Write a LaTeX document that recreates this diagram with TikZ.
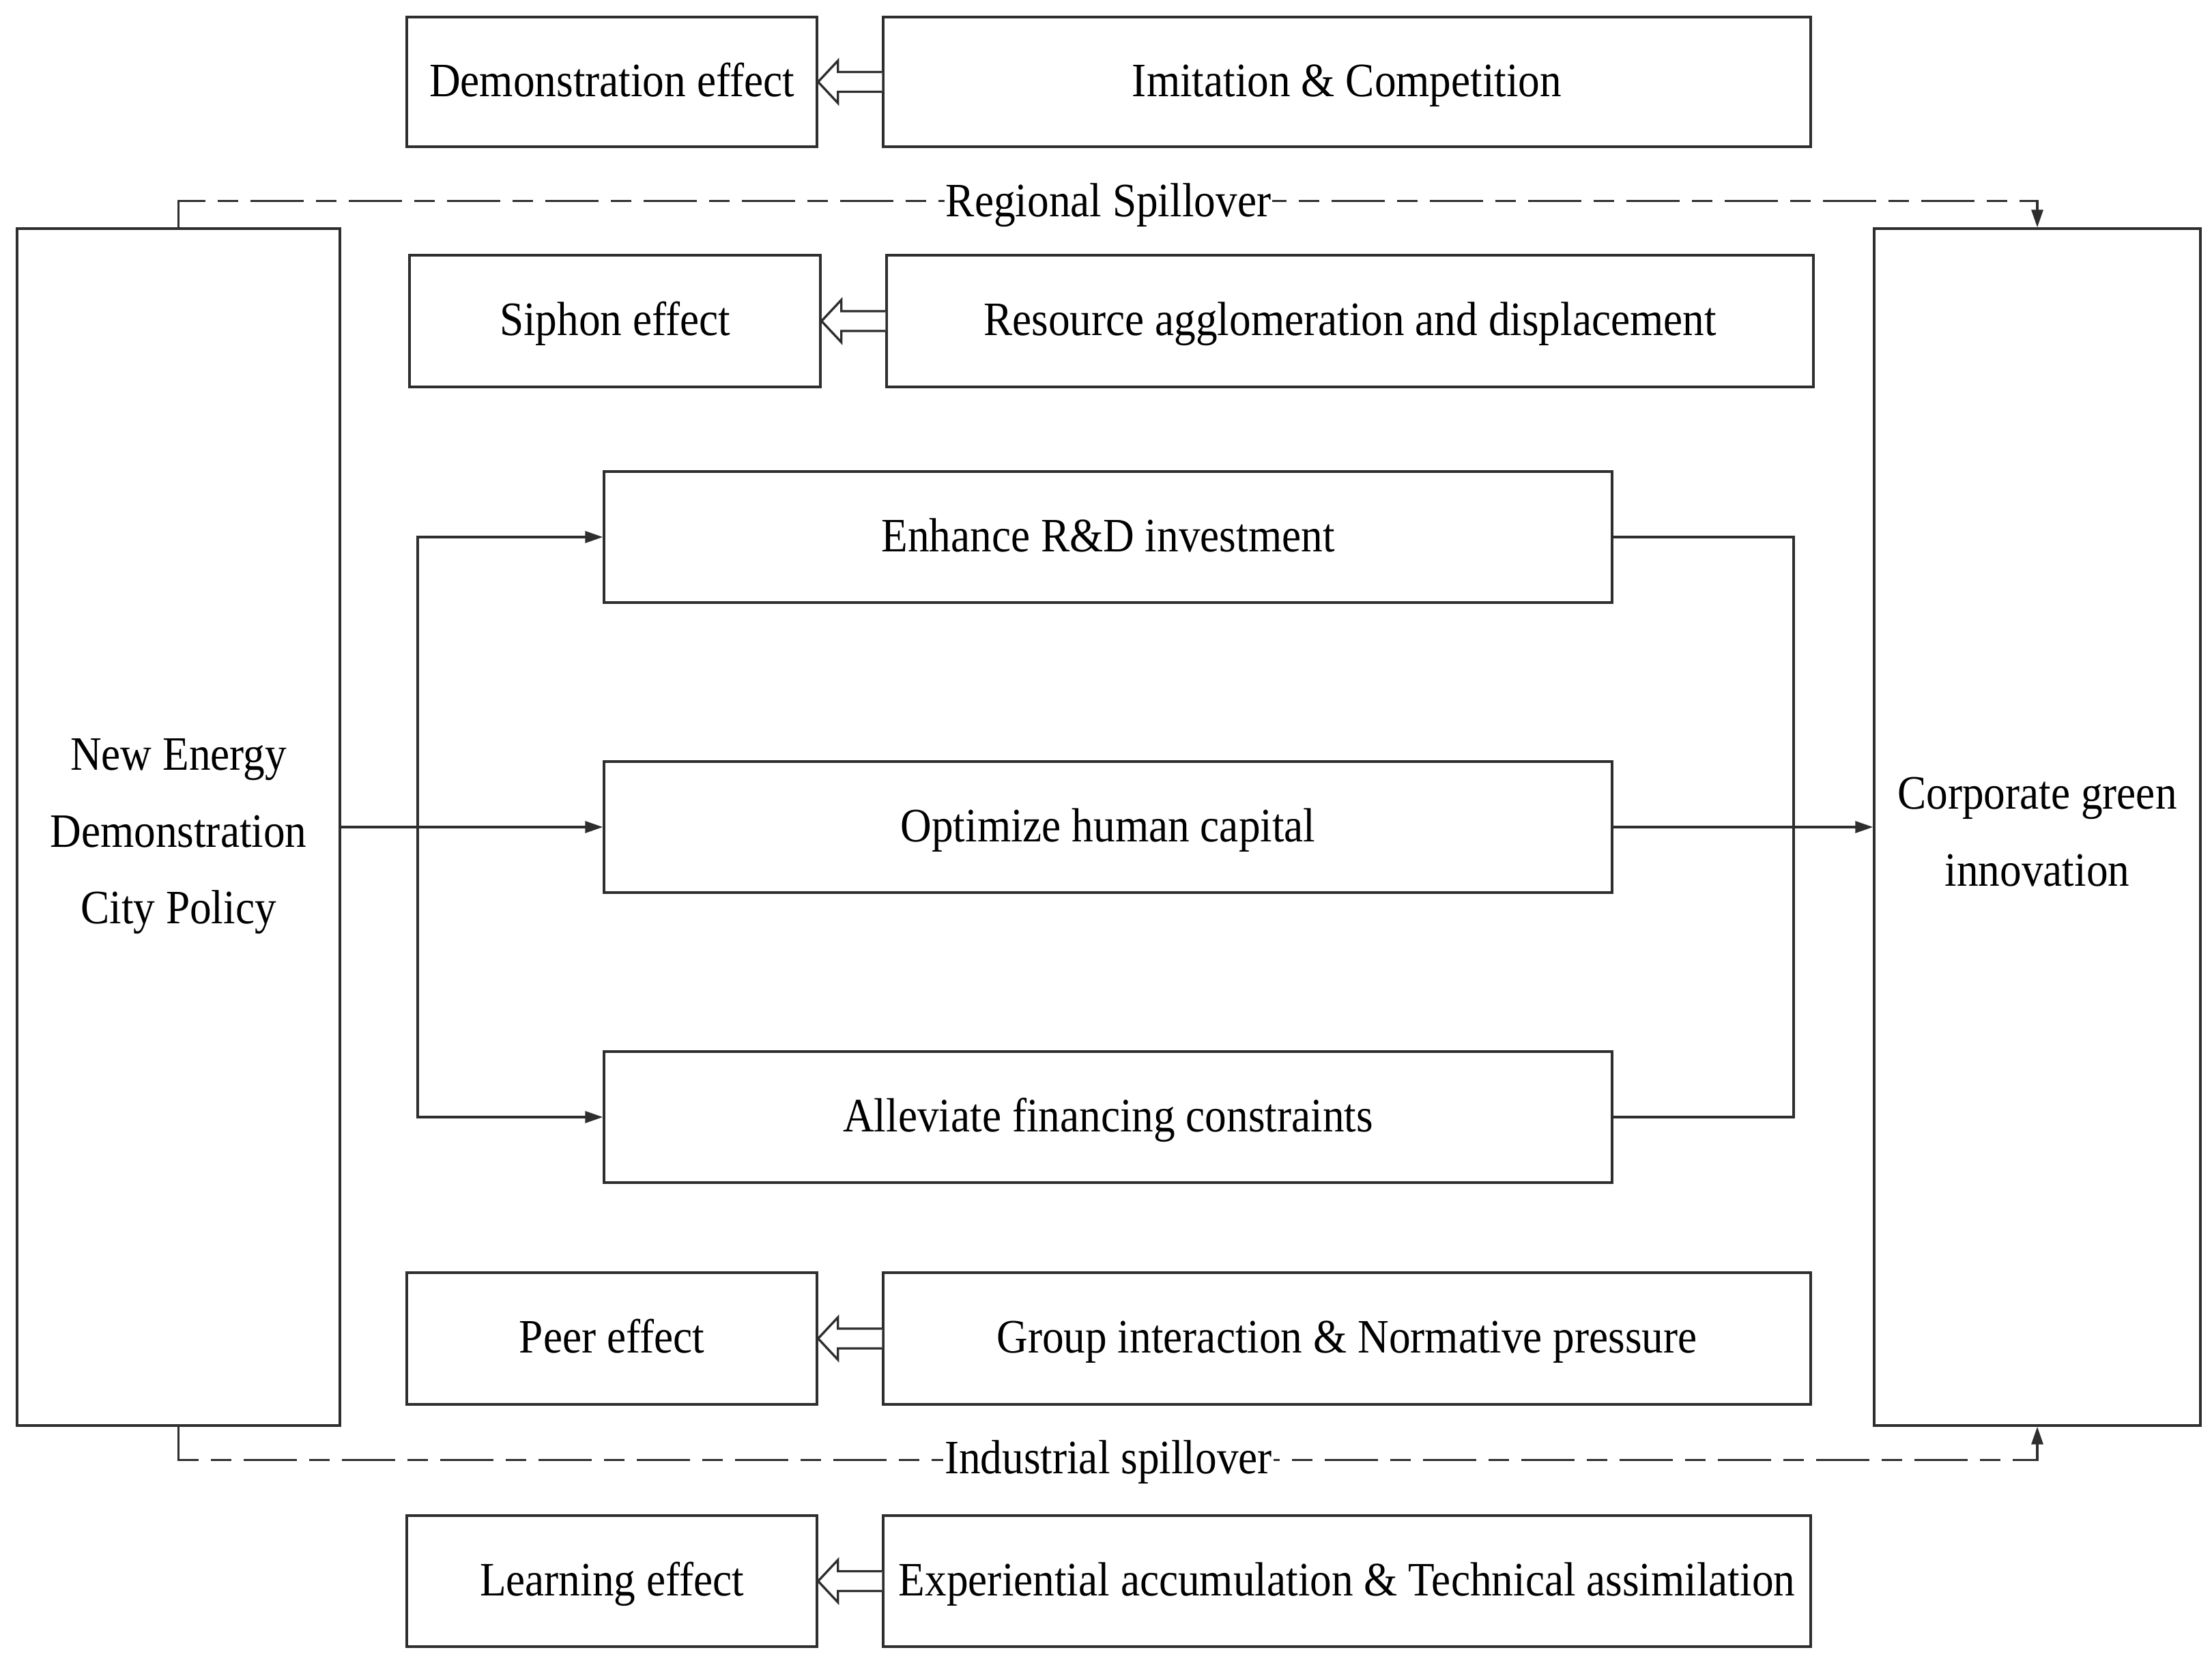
\documentclass[tikz,border=0pt]{standalone}
\usepackage{fontspec}
\setmainfont{Liberation Serif}[FakeStretch=0.9]
\usetikzlibrary{arrows.meta,calc}
\newcommand{\hollowarrow}[2]{%
  \draw[hollow] let \p1=(#1.west), \p2=(#2.east) in
    (\x1,\y1+0.145cm) -- (\x2+0.29cm,\y1+0.145cm) -- (\x2+0.29cm,\y1+0.31cm) --
    (\x2,\y1) -- (\x2+0.29cm,\y1-0.31cm) -- (\x2+0.29cm,\y1-0.145cm) -- (\x1,\y1-0.145cm);}
\begin{document}
\begin{tikzpicture}[
  frame/.style={draw=black!82, line width=0.95pt, rectangle, inner sep=0pt},
  box/.style={frame, font=\fontsize{20}{32}\selectfont, text height=16pt, text depth=4pt},
  bigbox/.style={frame},
  boxtext/.style={align=center, inner sep=0pt, font=\fontsize{20}{32}\selectfont},
  conn/.style={draw=black!82, line width=0.95pt},
  arr/.style={conn, -{Triangle[length=0.26cm,width=0.17cm]}},
  spill/.style={conn, dash pattern=on 0.78cm off 0.18cm on 0.30cm off 0.18cm},
  hollow/.style={draw=black!82, line width=0.95pt, fill=white},
  lbl/.style={fill=white, inner xsep=0.5pt, inner ysep=0pt, text height=16pt, text depth=4pt,
              font=\fontsize{20}{24}\selectfont}
]
\useasboundingbox (0,0) rectangle (32.41,-24.37);
\fill[white] (0,0) rectangle (32.41,-24.37);

% side boxes
\node[bigbox, minimum width=4.73cm, minimum height=17.54cm] (L) at (2.615,-12.12) {};
\node[boxtext, yshift=-0.14cm] (Ltext) at (L.center) {New Energy\\Demonstration\\City Policy};
\node[bigbox, minimum width=4.78cm, minimum height=17.54cm] (R) at (29.85,-12.12) {};
\node[boxtext, yshift=-0.07cm] (Rtext) at (R.center) {Corporate green\\innovation};

% top pair
\node[box, minimum width=6.01cm, minimum height=1.90cm] (demo) at (8.965,-1.20) {Demonstration effect};
\node[box, minimum width=13.59cm, minimum height=1.90cm] (imit) at (19.735,-1.20) {Imitation \& Competition};

% siphon pair
\node[box, minimum width=6.02cm, minimum height=1.93cm] (siphon) at (9.01,-4.705) {Siphon effect};
\node[box, minimum width=13.58cm, minimum height=1.93cm] (resource) at (19.78,-4.705) {Resource agglomeration and displacement};

% mediators
\node[box, minimum width=14.77cm, minimum height=1.92cm] (enhance) at (16.235,-7.87) {Enhance R\&D investment};
\node[box, minimum width=14.77cm, minimum height=1.92cm] (optimize) at (16.235,-12.12) {Optimize human capital};
\node[box, minimum width=14.77cm, minimum height=1.92cm] (alleviate) at (16.235,-16.37) {Alleviate financing constraints};

% peer pair
\node[box, minimum width=6.01cm, minimum height=1.93cm] (peer) at (8.965,-19.615) {Peer effect};
\node[box, minimum width=13.59cm, minimum height=1.93cm] (group) at (19.735,-19.615) {Group interaction \& Normative pressure};

% learning pair
\node[box, minimum width=6.01cm, minimum height=1.92cm] (learn) at (8.965,-23.17) {Learning effect};
\node[box, minimum width=13.59cm, minimum height=1.92cm] (exper) at (19.735,-23.17) {Experiential accumulation \& Technical assimilation};

% hollow arrows
\hollowarrow{imit}{demo}
\hollowarrow{resource}{siphon}
\hollowarrow{group}{peer}
\hollowarrow{exper}{learn}

% mediation connectors
\coordinate (jl) at (6.12,-12.12);
\coordinate (jr) at (26.28,-12.12);
\draw[arr] (L.east) -- (optimize.west);
\draw[arr] (jl) |- (enhance.west);
\draw[arr] (jl) |- (alleviate.west);
\draw[conn] (enhance.east) -| (jr);
\draw[conn] (alleviate.east) -| (jr);
\draw[arr] (optimize.east) -- (R.west);

% spillover lines
\draw[spill, -{Triangle[length=0.26cm,width=0.17cm]}] (L.north) -- ++(0,0.39) -| (R.north);
\node[lbl] (regl) at (16.24,-2.96) {Regional Spillover};
\draw[spill, -{Triangle[length=0.26cm,width=0.17cm]}] (L.south) -- ++(0,-0.49) -| (R.south);
\node[lbl] (indl) at (16.24,-21.38) {Industrial spillover};
\end{tikzpicture}
\end{document}
